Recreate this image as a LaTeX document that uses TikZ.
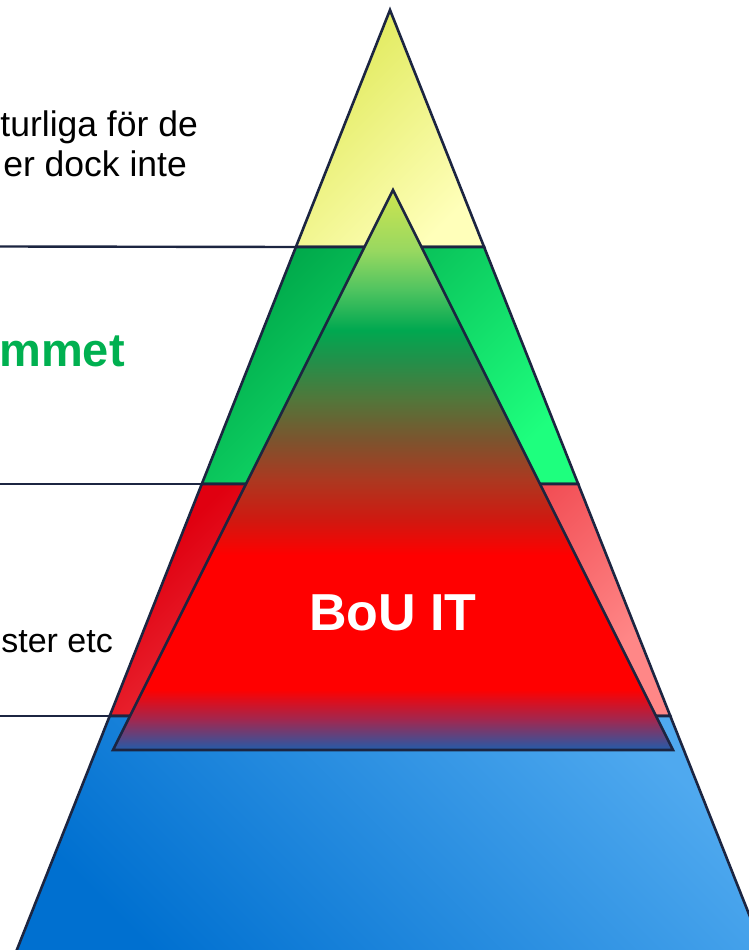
\documentclass[tikz,border=0pt]{standalone}
\usepackage{fontspec}
\setmainfont{Liberation Sans}
\usetikzlibrary{positioning,calc}

\definecolor{edgeblue}{HTML}{1C2541}
\definecolor{yellowA}{HTML}{DFE957}
\definecolor{yellowB}{HTML}{FFFFBA}
\definecolor{greenA}{HTML}{00A84A}
\definecolor{greenB}{HTML}{1EFF7E}
\definecolor{redA}{HTML}{E00010}
\definecolor{redB}{HTML}{FF8787}
\definecolor{blueA}{HTML}{0070D0}
\definecolor{blueB}{HTML}{4FA9EF}
\definecolor{textgreen}{HTML}{00B050}

\pgfdeclareverticalshading{bouit}{100bp}{%
  color(0bp)=(rgb,255:red,34;green,92;blue,170);
  color(25bp)=(rgb,255:red,34;green,92;blue,170);
  color(27.7bp)=(rgb,255:red,160;green,40;blue,80);
  color(30.4bp)=(rgb,255:red,255;green,0;blue,0);
  color(42.4bp)=(rgb,255:red,255;green,0;blue,0);
  color(45.5bp)=(rgb,255:red,208;green,24;blue,16);
  color(49.1bp)=(rgb,255:red,172;green,56;blue,32);
  color(52.7bp)=(rgb,255:red,124;green,84;blue,46);
  color(56.3bp)=(rgb,255:red,82;green,118;blue,58);
  color(59.8bp)=(rgb,255:red,34;green,144;blue,74);
  color(62.5bp)=(rgb,255:red,0;green,168;blue,80);
  color(66.1bp)=(rgb,255:red,80;green,196;blue,96);
  color(69.6bp)=(rgb,255:red,152;green,216;blue,96);
  color(75bp)=(rgb,255:red,206;green,228;blue,80);
  color(100bp)=(rgb,255:red,206;green,228;blue,80)}

\begin{document}
\begin{tikzpicture}[x=1pt,y=-1pt]
  \useasboundingbox (0,0) rectangle (749,950);
  \clip (0,0) rectangle (749,950);

  % corners of the big pyramid
  \coordinate (apex) at (390,10);
  \coordinate (Yl) at (295.9,247);
  \coordinate (Yr) at (484.1,247);
  \coordinate (Gl) at (201.8,484);
  \coordinate (Gr) at (578.2,484);
  \coordinate (Rl) at (109.7,716);
  \coordinate (Rr) at (670.3,716);
  \coordinate (Bl) at (12.8,960);
  \coordinate (Br) at (767.2,960);

  % corners of BoU IT
  \coordinate (itapex) at (393,190);
  \coordinate (itl) at (113,750);
  \coordinate (itr) at (673,750);

  \begin{scope}[
    layer/.style={
      draw=edgeblue,
      line width=2.6pt,
    },
    ]
    % top
    \shadedraw [layer,top color=yellowA,bottom color=yellowB,shading angle=45]
      (apex) -- (Yr) -- (Yl) -- cycle;
    % second
    \shadedraw [layer,top color=greenA,bottom color=greenB,shading angle=45]
      (Yl) -- (Yr) -- (Gr) -- (Gl) -- cycle;
    % third
    \shadedraw [layer,top color=redA,bottom color=redB,shading angle=45]
      (Gl) -- (Gr) -- (Rr) -- (Rl) -- cycle;
    % base
    \shadedraw [layer,top color=blueB,bottom color=blueA,shading angle=-45]
      (Rl) -- (Rr) -- (Br) -- (Bl) -- cycle;
    % BoU IT
    \shadedraw [layer,shading=bouit] (itapex) -- (itr) -- (itl) -- cycle;
  \end{scope}

  \begin{scope}[
    rule/.style={
      draw=edgeblue,
      line width=2.4pt,
    },
    note/.style={
      inner sep=0pt,
      anchor=base east,
      font=\fontsize{35.5}{40}\selectfont,
    },
    ]
    % rules to the left
    \coordinate (r1) at (0,246.5);
    \coordinate (r2) at (0,484);
    \coordinate (r3) at (0,716);
    \draw [rule] (r1) -- (Yl);
    \draw [rule] (r2) -- (Gl);
    \draw [rule] (r3) -- (Rl);

    % texts
    \node [note] (t1) at (198,136) {turliga för de};
    \node [note] (t2) at (187,176) {er dock inte};
    \node [note,text=textgreen,font=\fontsize{47}{52}\bfseries] (t3) at (125,366) {mmet};
    \node [note,font=\fontsize{34}{40}\selectfont] (t4) at (113,652) {ster etc};
    \node [inner sep=0pt,anchor=base,text=white,font=\fontsize{52}{58}\bfseries] (bou) at (393,630) {BoU IT};
  \end{scope}
\end{tikzpicture}
\end{document}
